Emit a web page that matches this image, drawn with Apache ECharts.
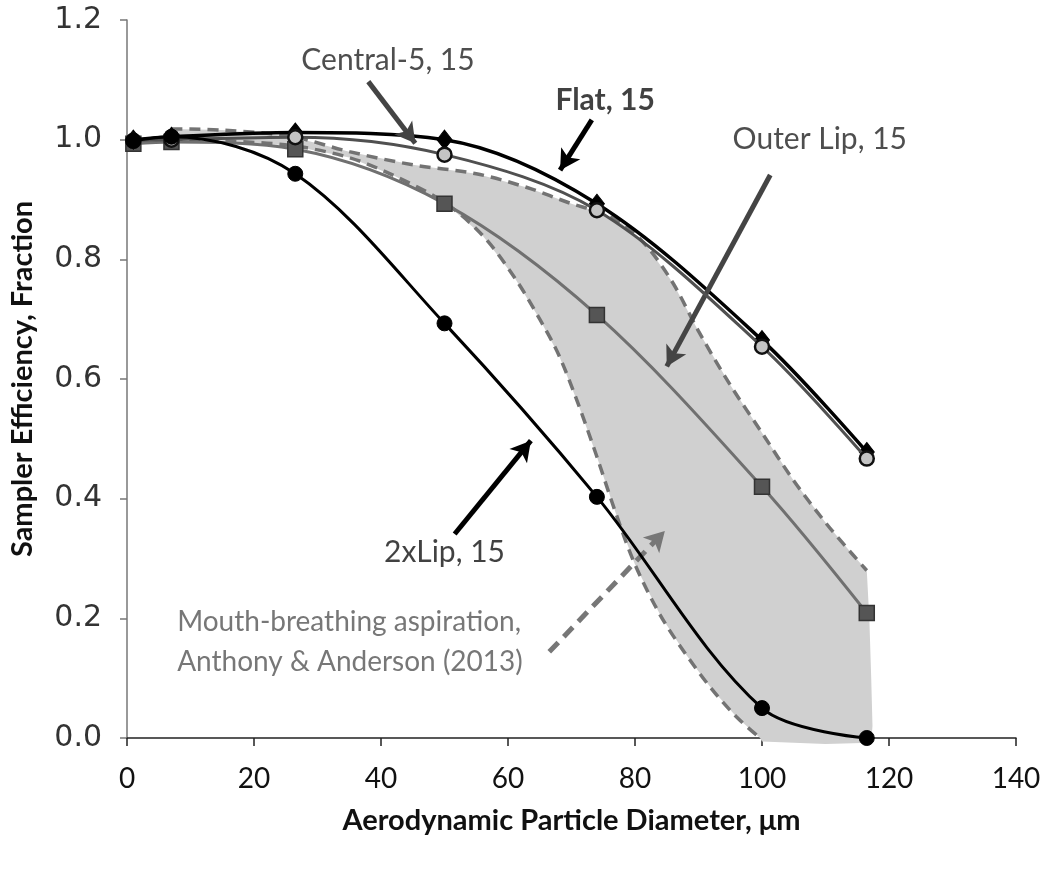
<!DOCTYPE html>
<html>
<head>
<meta charset="utf-8">
<script src="https://cdn.jsdelivr.net/npm/echarts@6/dist/echarts.min.js"></script>
<style>
  html, body { margin: 0; padding: 0; background: #fff; }
  #chart { width: 1050px; height: 875px; }
</style>
</head>
<body>
<div id="chart"></div>
<script>
// ---------- data ----------
const xVals    = [1, 7, 26.5, 50, 74, 100, 116.5];
const flat     = [1.0, 1.005, 1.012, 1.0, 0.893, 0.665, 0.478];
const central5 = [0.998, 1.0, 1.004, 0.975, 0.882, 0.654, 0.467];
const outerLip = [0.993, 0.996, 0.984, 0.893, 0.707, 0.42, 0.209];
const twoXLip  = [0.998, 1.005, 0.943, 0.693, 0.403, 0.05, 0.0];

// Mouth-breathing aspiration band (Anthony & Anderson 2013)
const upperX = [7, 15, 26, 35, 45, 55, 63, 70, 74, 78, 82, 86, 90, 95, 100, 105, 110, 114, 116.5];
const upperY = [1.018, 1.016, 1.005, 0.98, 0.958, 0.943, 0.92, 0.893, 0.88, 0.86, 0.82, 0.76, 0.68, 0.59, 0.51, 0.43, 0.36, 0.31, 0.28];
const lowerX = [7, 15, 26, 35, 42, 50, 56, 61, 65, 68, 71, 74, 77, 80, 84, 88, 92, 96, 99.7];
const lowerY = [1.0, 0.998, 0.99, 0.97, 0.94, 0.895, 0.84, 0.77, 0.70, 0.64, 0.56, 0.47, 0.375, 0.29, 0.205, 0.14, 0.083, 0.035, 0.0];
// right / bottom edge of the shaded band
const edgeX = [116.9, 117.2, 117.4, 117.2, 110, 100];
const edgeY = [0.2, 0.1, 0.02, -0.008, -0.01, -0.006];

const xTicks = [0, 20, 40, 60, 80, 100, 120, 140];
const yTicks = [0, 0.2, 0.4, 0.6, 0.8, 1.0, 1.2];

// annotations (data coordinates)
const labelTexts = ['Central-5, 15', 'Flat, 15', 'Outer Lip, 15', '2xLip, 15', 'Mouth-breathing aspiration,\nAnthony & Anderson (2013)'];
const labelX = [41.1, 75.3, 109.1, 50.0, 7.9];
const labelY = [1.133, 1.066, 1.0, 0.31, 0.16];
const arrowFromX = [38.0, 73.2, 101.3, 51.6, 66.5];
const arrowFromY = [1.097, 1.033, 0.941, 0.341, 0.144];
const arrowToX   = [45.4, 68.2, 85.0, 63.6, 84.7];
const arrowToY   = [0.994, 0.949, 0.621, 0.497, 0.346];

// ---------- build ----------
const FONT = 'Lato';
const pair = (xs, ys) => xs.map((x, i) => [x, ys[i]]);

const shadeX = upperX.concat(edgeX, lowerX.slice().reverse());
const shadeY = upperY.concat(edgeY, lowerY.slice().reverse());

const labelStyles = [
  { fontSize: 30, fontWeight: 'normal', color: '#222' },
  { fontSize: 30, fontWeight: 'bold', color: '#111' },
  { fontSize: 30, fontWeight: 'normal', color: '#222' },
  { fontSize: 30, fontWeight: 'normal', color: '#111' },
  { fontSize: 28, fontWeight: 'normal', color: '#555', align: 'left', lineHeight: 40 }
];
const arrowStyles = [
  { color: '#444', width: 5, type: 'solid' },
  { color: '#000', width: 5, type: 'solid' },
  { color: '#444', width: 5, type: 'solid' },
  { color: '#000', width: 5, type: 'solid' },
  { color: '#777', width: 5, type: [13, 8] }
];

const SM = 0.33;
const chart = echarts.init(document.getElementById('chart'), null, { renderer: 'canvas' });

const option = {
  animation: false,
  backgroundColor: '#fff',
  grid: { left: 127, right: 34, top: 20, bottom: 137, containLabel: false },
  xAxis: {
    type: 'value', min: 0, max: 140, interval: 20,
    name: 'Aerodynamic Particle Diameter, μm',
    nameLocation: 'middle', nameGap: 68,
    nameTextStyle: { fontFamily: FONT, fontSize: 29, fontWeight: 'bold', color: '#111' },
    axisLine: { show: true, onZero: false, lineStyle: { color: '#222', width: 1.5 } },
    axisTick: { show: true, inside: false, length: 8, lineStyle: { color: '#222', width: 1.5 } },
    axisLabel: { fontFamily: FONT, fontSize: 28, color: '#111', margin: 27,
      formatter: v => xTicks.includes(v) ? String(v) : '' },
    splitLine: { show: false }
  },
  yAxis: {
    type: 'value', min: 0, max: 1.2, interval: 0.2,
    name: 'Sampler Efficiency, Fraction',
    nameLocation: 'middle', nameGap: 90,
    nameTextStyle: { fontFamily: FONT, fontSize: 29, fontWeight: 'bold', color: '#111' },
    axisLine: { show: true, onZero: false, lineStyle: { color: '#777', width: 1.5 } },
    axisTick: { show: true, inside: false, length: 7, lineStyle: { color: '#777', width: 1.5 } },
    axisLabel: { fontFamily: 'DejaVu Sans', fontSize: 30, color: '#333', margin: 25,
      formatter: v => yTicks.some(t => Math.abs(t - v) < 1e-9) ? v.toFixed(1) : '' },
    splitLine: { show: false }
  },
  series: [
    {
      name: 'shade', type: 'custom', coordinateSystem: 'cartesian2d', silent: true, z: 1,
      data: pair(shadeX, shadeY),
      encode: { x: 0, y: 1 },
      renderItem: function (params, api) {
        if (params.dataIndex !== 0) return null;
        const pts = shadeX.map((x, i) => api.coord([x, shadeY[i]]));
        return { type: 'polygon', shape: { points: pts }, style: { fill: '#d0d0d0' } };
      }
    },
    {
      name: 'upper', type: 'line', data: pair(upperX, upperY), smooth: SM, showSymbol: false, symbol: 'none', z: 2,
      lineStyle: { color: '#737373', width: 3.5, type: [11, 7] }
    },
    {
      name: 'lower', type: 'line', data: pair(lowerX, lowerY), smooth: SM, showSymbol: false, symbol: 'none', z: 2,
      lineStyle: { color: '#737373', width: 3.5, type: [11, 7] }
    },
    {
      name: 'Outer Lip, 15', type: 'line', data: pair(xVals, outerLip), smooth: SM, z: 3,
      symbol: 'rect', symbolSize: 15,
      lineStyle: { color: '#707070', width: 3 },
      itemStyle: { color: '#555', borderColor: '#333', borderWidth: 1.5 }
    },
    {
      name: 'Flat, 15', type: 'line', data: pair(xVals, flat), smooth: SM, z: 4,
      symbol: 'diamond', symbolSize: [15, 19],
      lineStyle: { color: '#000', width: 3.5 },
      itemStyle: { color: '#000', borderColor: '#000', borderWidth: 1 }
    },
    {
      name: 'Central-5, 15', type: 'line', data: pair(xVals, central5), smooth: SM, z: 5,
      symbol: 'circle', symbolSize: 14,
      lineStyle: { color: '#505050', width: 3 },
      itemStyle: { color: '#c4c4c4', borderColor: '#111', borderWidth: 2.5 }
    },
    {
      name: '2xLip, 15', type: 'line', data: pair(xVals, twoXLip), smooth: SM, z: 6,
      symbol: 'circle', symbolSize: 15,
      lineStyle: { color: '#000', width: 3 },
      itemStyle: { color: '#000', borderColor: '#000', borderWidth: 1 }
    },
    {
      name: 'annotations', type: 'scatter', z: 10, silent: true,
      symbolSize: 0,
      data: labelTexts.map((t, i) => ({
        value: [labelX[i], labelY[i]],
        label: Object.assign({
          show: true, position: 'inside', formatter: t, fontFamily: FONT
        }, labelStyles[i])
      })),
      markLine: {
        silent: true, animation: false,
        symbol: ['none', 'arrow'], symbolSize: 18,
        label: { show: false },
        emphasis: { disabled: true },
        data: arrowFromX.map((x, i) => [
          { coord: [x, arrowFromY[i]], symbol: 'none', lineStyle: arrowStyles[i] },
          { coord: [arrowToX[i], arrowToY[i]], symbol: 'arrow', symbolSize: [17, 20], itemStyle: { color: arrowStyles[i].color } }
        ])
      }
    }
  ]
};
chart.setOption(option);
</script>
</body>
</html>
